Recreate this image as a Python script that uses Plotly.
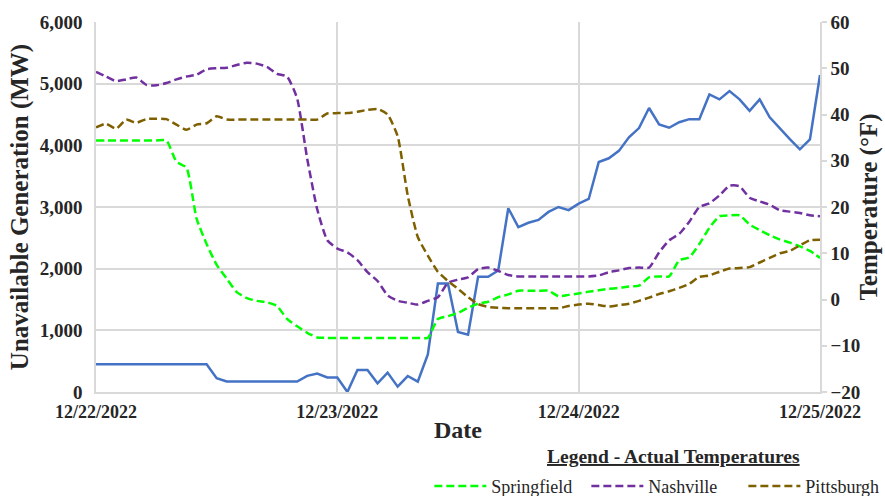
import pandas as pd
import plotly.graph_objects as go

# Hourly observations, 12/22/2022 00:00 through 12/25/2022 00:00
start = "2022-12-22 00:00"
n_hours = 73

# Unavailable generation (MW)
generation_mw = [
    450, 450, 450, 450, 450, 450, 450, 450, 450, 450, 450, 450,
    225, 170, 170, 170, 170, 170, 170, 170, 170, 262, 300, 235,
    235, 0, 357, 357, 142, 314, 87, 259, 167, 610, 1760, 1760,
    975, 930, 1868, 1868, 1970, 2980, 2675, 2745, 2790, 2920, 3000, 2950,
    3055, 3130, 3730, 3790, 3910, 4130, 4280, 4605, 4340, 4285, 4375, 4425,
    4425, 4825, 4745, 4880, 4745, 4560, 4745, 4455, 4275, 4100, 3935, 4095,
    5140,
]

# Actual temperatures (°F)
springfield_f = [
    34.4, 34.4, 34.4, 34.4, 34.4, 34.4, 34.4, 34.4, 29.8, 28.5, 17.5, 12.0,
    7.5, 4.5, 1.6, 0.3, -0.3, -0.6, -1.4, -4.2, -5.8, -7.2, -8.2, -8.3,
    -8.3, -8.3, -8.3, -8.3, -8.3, -8.3, -8.3, -8.3, -8.3, -8.3, -4.2, -3.6,
    -2.9, -1.8, -0.9, -0.5, 0.5, 1.1, 1.9, 1.9, 1.9, 1.9, 0.7, 1.0,
    1.3, 1.7, 2.0, 2.3, 2.5, 2.8, 3.0, 4.8, 5.0, 5.0, 8.5, 9.1,
    12.0, 15.5, 18.0, 18.2, 18.2, 16.2, 15.0, 13.9, 13.0, 12.3, 11.5, 10.5,
    9.0,
]
nashville_f = [
    49.2, 48.2, 47.2, 47.6, 48.0, 46.4, 46.3, 46.8, 47.6, 48.2, 48.6, 49.8,
    50.0, 50.1, 50.7, 51.2, 51.0, 50.3, 48.8, 48.2, 43.5, 30.5, 19.5, 12.8,
    11.0, 10.2, 8.5, 5.9, 4.0, 0.9, -0.3, -0.7, -1.1, -0.3, 0.5, 3.6,
    4.3, 4.8, 6.6, 6.9, 6.2, 5.3, 5.0, 5.0, 5.0, 5.0, 5.0, 5.0,
    5.0, 5.0, 5.2, 5.9, 6.3, 6.8, 6.9, 6.9, 10.2, 12.8, 14.2, 16.8,
    20.0, 20.8, 22.5, 24.6, 24.5, 22.0, 21.2, 20.5, 19.3, 19.0, 18.7, 18.2,
    18.0,
]
pittsburgh_f = [
    37.2, 38.0, 36.9, 38.9, 38.2, 39.0, 39.1, 39.0, 37.8, 36.7, 37.8, 38.1,
    39.6, 38.9, 38.9, 38.9, 38.9, 38.9, 38.9, 38.9, 38.9, 38.9, 38.9, 40.2,
    40.3, 40.3, 40.6, 41.0, 41.2, 40.0, 35.3, 22.5, 13.5, 9.5, 6.0, 4.0,
    2.3, 0.5, -1.0, -1.6, -1.8, -1.9, -1.9, -1.9, -1.9, -1.9, -1.9, -1.4,
    -1.1, -0.9, -1.2, -1.5, -1.2, -0.9, -0.3, 0.4, 1.2, 1.8, 2.5, 3.4,
    4.9, 5.2, 6.0, 6.7, 6.8, 7.0, 8.0, 9.0, 10.0, 10.5, 11.7, 12.8,
    12.9,
]

times = pd.date_range(start, periods=n_hours, freq="h")

SERIF = "Liberation Serif, Times New Roman, serif"
INK = "#262626"
GRID = "#d9d9d9"
DASH = "8px,4px"

fig = go.Figure()

fig.add_trace(go.Scatter(
    x=times, y=generation_mw, mode="lines", name="Unavailable Generation",
    line=dict(color="#4472C4", width=2.5), showlegend=False,
))

for name, vals, color in [
    ("Springfield", springfield_f, "#00FF00"),
    ("Nashville", nashville_f, "#7030A0"),
    ("Pittsburgh", pittsburgh_f, "#7F6000"),
]:
    fig.add_trace(go.Scatter(
        x=times, y=vals, mode="lines", name=name, yaxis="y2",
        line=dict(color=color, width=2.5, dash=DASH, shape="spline", smoothing=0.5),
    ))

fig.update_layout(
    width=885, height=496,
    margin=dict(l=96, r=65, t=22, b=104, autoexpand=False),
    paper_bgcolor="white", plot_bgcolor="white",
    font=dict(family=SERIF, color=INK, size=15),
    xaxis=dict(
        range=[times[0], times[-1]],
        tickmode="linear", tick0=times[0], dtick=86400000,
        tickformat="%m/%d/%Y",
        tickfont=dict(family=SERIF, size=18, color=INK, weight="bold"),
        ticklabelstandoff=3,
        showgrid=True, gridcolor=GRID, gridwidth=1.5,
        showline=True, linecolor=GRID, linewidth=1.5,
        ticks="", zeroline=False,
        title=dict(text="<b>Date</b>", font=dict(family=SERIF, size=24, color=INK),
                   standoff=0),
    ),
    yaxis=dict(
        range=[0, 6000], dtick=1000, tickformat=",",
        tickfont=dict(family=SERIF, size=19, color=INK, weight="bold"),
        ticklabelstandoff=8,
        showgrid=True, gridcolor=GRID, gridwidth=1.5,
        showline=True, linecolor=GRID, linewidth=1.5,
        zeroline=False, ticks="",
        title=dict(text="<b>Unavailable Generation (MW)</b>",
                   font=dict(family=SERIF, size=25, color=INK), standoff=4),
    ),
    yaxis2=dict(
        range=[-20, 60], dtick=10, overlaying="y", side="right",
        tickfont=dict(family=SERIF, size=19, color=INK, weight="bold"),
        showgrid=False, zeroline=False,
        showline=True, linecolor=GRID, linewidth=1.5,
        ticks="outside", ticklen=5, tickcolor=GRID, tickwidth=1.5,
        title=dict(text="<b>Temperature (°F)</b>",
                   font=dict(family=SERIF, size=25, color=INK), standoff=0),
    ),
    legend=dict(
        orientation="h", x=1.111, xanchor="right", y=-0.205, yanchor="top",
        font=dict(family=SERIF, size=18, color=INK),
        itemwidth=52, entrywidth=90, tracegroupgap=0, bgcolor="rgba(0,0,0,0)",
    ),
    annotations=[dict(
        text="<b><u>Legend - Actual Temperatures</u></b>",
        xref="paper", yref="paper", x=0.797, y=-0.173,
        xanchor="center", yanchor="middle", showarrow=False,
        font=dict(family=SERIF, size=19.5, color=INK),
    )],
)

fig.write_html("out.html")
